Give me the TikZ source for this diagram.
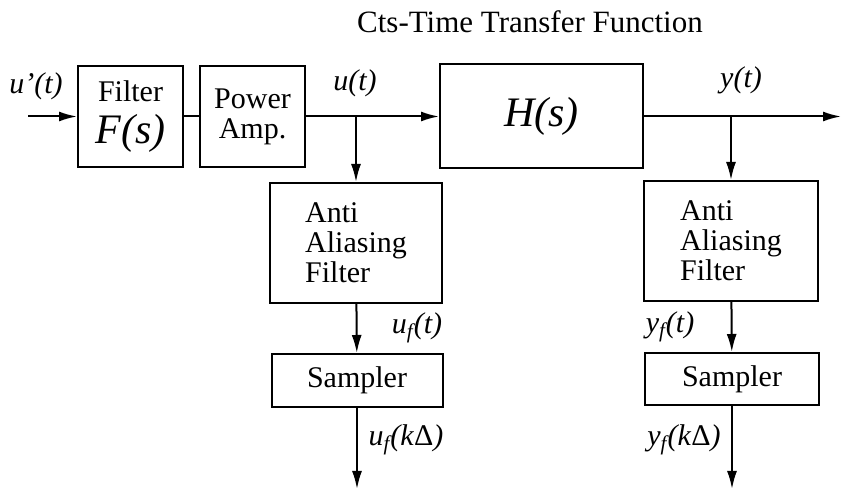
\documentclass[tikz,border=0pt]{standalone}
\usepackage{fontspec}
\setmainfont{Liberation Serif}
\usetikzlibrary{arrows.meta}
\usetikzlibrary{positioning}

\begin{document}
\begin{tikzpicture}[x=0.5pt, y=-0.5pt, line width=1pt,
		block/.style = {draw, rectangle, inner sep=0pt, font=\fontsize{15}{15}\selectfont},
		sig/.style = {font=\fontsize{15}{15}\selectfont\itshape, inner sep=0pt},
		flow/.style = {-{Latex[length=9pt, width=5pt]}}]
		\useasboundingbox (0,0) rectangle (841,490);
		\node[font=\fontsize{15.5}{16}\selectfont] (title) at (530,22) {Cts-Time Transfer Function};
		% forward path
		\node[block, minimum width=52.5pt, minimum height=50.5pt, align=center] (filt) at (130.5,116.5)
			{Filter\\[6pt]{\fontsize{21}{21}\selectfont\itshape F(s)}};
		\node[block, minimum width=52.5pt, minimum height=50.5pt, align=center] (amp) at (252.5,116.5)
			{Power\\Amp.};
		\node[block, minimum width=101.5pt, minimum height=52pt] (plant) at (541.5,116)
			{\fontsize{21}{21}\selectfont\itshape H(s)};
		% measurement branches
		\node[block, minimum width=86pt, minimum height=60pt, align=left] (aal) at (356,243)
			{Anti\\Aliasing\\Filter};
		\node[block, minimum width=87pt, minimum height=60pt, align=left] (aar) at (731,241)
			{Anti\\Aliasing\\Filter};
		\node[block, minimum width=85.5pt, minimum height=26.5pt] (saml) at (357,380.5) {Sampler};
		\node[block, minimum width=87pt, minimum height=26pt] (samr) at (732,379) {Sampler};
		\coordinate (in) at (28,116.5);
		\coordinate (out) at (841,116.5);
		\coordinate (ubr) at (aal.north |- filt.east);
		\coordinate (ybr) at (aar.north |- filt.east);
		\coordinate (uend) at (357,489);
		\coordinate (yend) at (732,489);
		\draw[flow] (in) -- (filt);
		\draw (filt) -- (amp);
		\draw[flow] (amp) -- (plant.west |- amp.east);
		\draw[flow] (plant.east |- amp.east) -- (out);
		\draw[flow] (ubr) -- (aal);
		\draw[flow] (ybr) -- (aar);
		\draw[flow] (aal) -- (saml);
		\draw[flow] (aar) -- (samr);
		\draw[flow] (saml) -- (uend);
		\draw[flow] (samr) -- (yend);
		% signal labels
		\node[sig] (uin) at (36,86) {u'(t)};
		\node[sig] (ut) at (355,83) {u(t)};
		\node[sig] (yt) at (741,80) {y(t)};
		\node[sig] (uft) at (417,328) {u\textsubscript{f}(t)};
		\node[sig] (ufk) at (406,440) {u\textsubscript{f}(k\textup{Δ})};
		\node[sig] (yft) at (670,327) {y\textsubscript{f}(t)};
		\node[sig] (yfk) at (684,440) {y\textsubscript{f}(k\textup{Δ})};
\end{tikzpicture}
\end{document}
